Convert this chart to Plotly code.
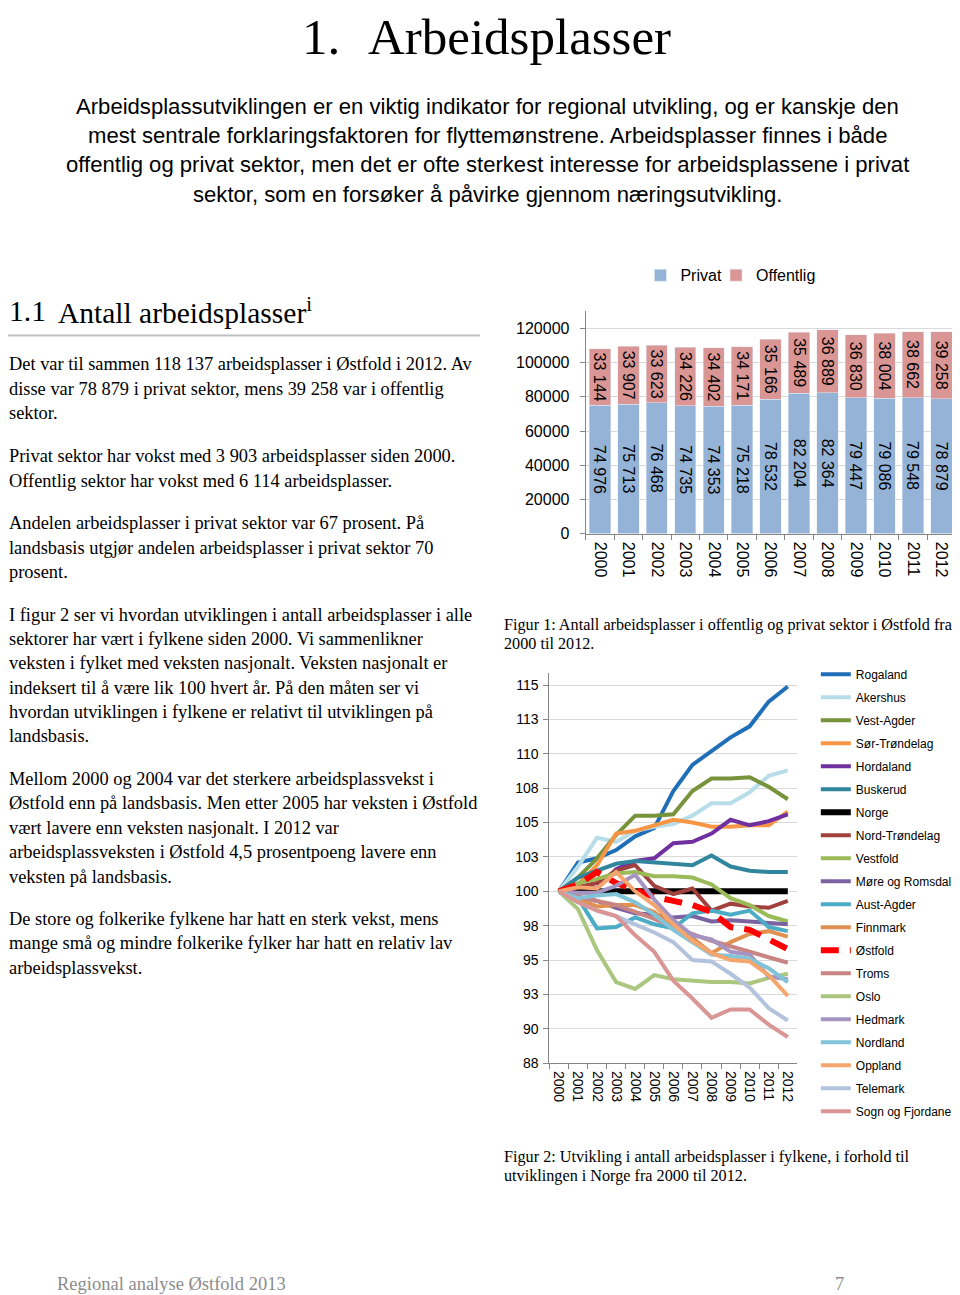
import plotly.graph_objects as go

# Page layout: browser keeps its default 8px body margin (OFF); positions
# below are given in reference-page pixels and mapped with a small factor S.
OFF = 8
S = 1.008
W, H = 952, 1297

# ---------------- data: Figur 1 ----------------
years = ["2000", "2001", "2002", "2003", "2004", "2005", "2006",
         "2007", "2008", "2009", "2010", "2011", "2012"]
privat = [74976, 75713, 76468, 74735, 74353, 75218, 78532,
          82204, 82364, 79447, 79086, 79548, 78879]
offentlig = [33144, 33907, 33623, 34226, 34402, 34171, 35166,
             35489, 36889, 36830, 38004, 38662, 39258]

# ---------------- data: Figur 2 (index, Norge = 100) ----------------
rogaland = [100, 102.1, 102.4, 103.0, 104.0, 104.6, 107.3, 109.2, 110.2, 111.2, 112.0, 113.8, 114.9]
akershus = [100, 101.8, 103.9, 103.6, 104.4, 104.7, 104.9, 105.5, 106.4, 106.4, 107.2, 108.4, 108.8]
vest_agder = [100, 101.0, 102.4, 104.1, 105.5, 105.5, 105.6, 107.3, 108.2, 108.2, 108.3, 107.6, 106.7]
sor_trondelag = [100, 100.5, 101.9, 104.2, 104.4, 104.8, 105.2, 105.0, 104.7, 104.7, 104.8, 104.8, 105.8]
hordaland = [100, 100.3, 100.2, 101.6, 102.2, 102.4, 103.5, 103.6, 104.2, 105.2, 104.8, 105.1, 105.6]
buskerud = [100, 101.0, 101.5, 102.0, 102.2, 102.1, 102.0, 101.9, 102.6, 101.8, 101.5, 101.4, 101.4]
norge = [100, 100, 100, 100, 100, 100, 100, 100, 100, 100, 100, 100, 100]
nord_trondelag = [100, 100.3, 100.6, 101.5, 101.9, 100.4, 99.8, 100.2, 98.6, 99.1, 98.9, 98.8, 99.3]
vestfold = [100, 100.6, 100.9, 101.3, 101.4, 101.1, 101.1, 101.0, 100.5, 99.5, 99.0, 98.2, 97.8]
more_romsdal = [100, 99.6, 99.3, 98.8, 98.4, 98.3, 98.1, 98.2, 97.8, 97.9, 97.8, 97.7, 97.6]
aust_agder = [100, 99.5, 97.3, 97.4, 98.1, 97.6, 97.3, 98.4, 98.6, 98.3, 98.6, 97.4, 97.1]
finnmark = [100, 99.4, 98.9, 99.0, 99.0, 98.5, 97.3, 96.6, 95.5, 96.3, 96.9, 97.1, 96.7]
ostfold = [100, 100.5, 101.4, 100.6, 100.1, 99.6, 99.3, 99.0, 98.5, 97.4, 97.2, 96.5, 95.8]
troms = [100, 99.6, 99.3, 99.0, 98.5, 98.0, 97.4, 96.9, 96.4, 96.0, 95.6, 95.2, 94.8]
oslo = [100, 98.7, 95.7, 93.4, 92.9, 93.9, 93.6, 93.5, 93.4, 93.4, 93.3, 93.7, 94.0]
hedmark = [100, 99.9, 99.9, 100.4, 101.2, 99.4, 97.9, 96.8, 96.5, 95.6, 95.4, 93.8, 93.6]
nordland = [100, 99.5, 99.7, 99.8, 99.2, 98.3, 97.2, 96.3, 95.4, 95.3, 95.1, 94.4, 93.4]
oppland = [100, 100.3, 100.2, 101.4, 100.0, 99.0, 97.6, 96.4, 95.5, 95.0, 94.9, 93.9, 92.4]
telemark = [100, 99.2, 98.6, 98.2, 97.6, 97.0, 96.3, 95.0, 94.9, 94.0, 93.0, 91.5, 90.6]
sogn_fjordane = [100, 99.2, 98.6, 98.2, 96.8, 95.6, 93.5, 92.2, 90.8, 91.4, 91.4, 90.3, 89.4]

idx_tickvals = [87.5, 90, 92.5, 95, 97.5, 100, 102.5, 105, 107.5, 110, 112.5, 115]
idx_ticktext = ["88", "90", "93", "95", "98", "100", "103", "105", "108", "110", "113", "115"]

series = [
    ("Rogaland", rogaland, "#1F6FB8", 4, "solid"),
    ("Akershus", akershus, "#B7DEE8", 4, "solid"),
    ("Vest-Agder", vest_agder, "#77933C", 4, "solid"),
    ("Sør-Trøndelag", sor_trondelag, "#F79646", 4, "solid"),
    ("Hordaland", hordaland, "#7030A0", 4, "solid"),
    ("Buskerud", buskerud, "#31859C", 4, "solid"),
    ("Norge", norge, "#000000", 6, "solid"),
    ("Nord-Trøndelag", nord_trondelag, "#A0413D", 4, "solid"),
    ("Vestfold", vestfold, "#9BBB59", 4, "solid"),
    ("Møre og Romsdal", more_romsdal, "#7B62A0", 4, "solid"),
    ("Aust-Agder", aust_agder, "#4BACC6", 4, "solid"),
    ("Finnmark", finnmark, "#E0914F", 4, "solid"),
    ("Østfold", ostfold, "#FF0000", 6, "18px,11px"),
    ("Troms", troms, "#C98583", 4, "solid"),
    ("Oslo", oslo, "#AAC67F", 4, "solid"),
    ("Hedmark", hedmark, "#A594C2", 4, "solid"),
    ("Nordland", nordland, "#82C3D8", 4, "solid"),
    ("Oppland", oppland, "#F5A56E", 4, "solid"),
    ("Telemark", telemark, "#B3C3DD", 4, "solid"),
    ("Sogn og Fjordane", sogn_fjordane, "#D99694", 4, "solid"),
]

# ---------------- text ----------------
intro_lines = [
    "Arbeidsplassutviklingen er en viktig indikator for regional utvikling, og er kanskje den",
    "mest sentrale forklaringsfaktoren for flyttemønstrene. Arbeidsplasser finnes i både",
    "offentlig og privat sektor, men det er ofte sterkest interesse for arbeidsplassene i privat",
    "sektor, som en forsøker å påvirke gjennom næringsutvikling.",
]
intro_y = [106, 135, 164, 194]

body_lines = [
    ("Det var til sammen 118 137 arbeidsplasser i Østfold i 2012. Av", 364),
    ("disse var 78 879 i privat sektor, mens 39 258 var i offentlig", 389),
    ("sektor.", 413),
    ("Privat sektor har vokst med 3 903 arbeidsplasser siden 2000.", 455),
    ("Offentlig sektor har vokst med 6 114 arbeidsplasser.", 480),
    ("Andelen arbeidsplasser i privat sektor var 67 prosent. På", 522),
    ("landsbasis utgjør andelen arbeidsplasser i privat sektor 70", 547),
    ("prosent.", 571),
    ("I figur 2 ser vi hvordan utviklingen i antall arbeidsplasser i alle", 614),
    ("sektorer har vært i fylkene siden 2000. Vi sammenlikner", 638),
    ("veksten i fylket med veksten nasjonalt. Veksten nasjonalt er", 662),
    ("indeksert til å være lik 100 hvert år. På den måten ser vi", 687),
    ("hvordan utviklingen i fylkene er relativt til utviklingen på", 711),
    ("landsbasis.", 735),
    ("Mellom 2000 og 2004 var det sterkere arbeidsplassvekst i", 778),
    ("Østfold enn på landsbasis. Men etter 2005 har veksten i Østfold", 802),
    ("vært lavere enn veksten nasjonalt. I 2012 var", 827),
    ("arbeidsplassveksten i Østfold 4,5 prosentpoeng lavere enn", 851),
    ("veksten på landsbasis.", 876),
    ("De store og folkerike fylkene har hatt en sterk vekst, mens", 918),
    ("mange små og mindre folkerike fylker har hatt en relativ lav", 942),
    ("arbeidsplassvekst.", 967),
]

captions = [
    ("Figur 1: Antall arbeidsplasser i offentlig og privat sektor i Østfold fra", 624),
    ("2000 til 2012.", 643),
    ("Figur 2: Utvikling i antall arbeidsplasser i fylkene, i forhold til", 1156),
    ("utviklingen i Norge fra 2000 til 2012.", 1175),
]


def px(x):
    """reference page x pixel -> paper fraction"""
    return max(0.0, (x * S - OFF) / W)


def py(y):
    """reference page y pixel -> paper fraction"""
    return min(1.0, 1 - (y * S - OFF) / H)


def legend_x(text_x):
    """legend box position so that the item text starts at text_x"""
    return px(text_x) - 43 / W


SERIF = "Liberation Serif"
SANS = "Liberation Sans"


def fmt(vals):
    return [f"{v:,}".replace(",", " ") for v in vals]


fig = go.Figure()

fig.add_trace(go.Bar(
    x=years, y=privat, name="Privat", marker_color="#95B3D7",
    text=fmt(privat), textposition="inside", insidetextanchor="middle",
    textangle=90, textfont=dict(size=16, color="black", family=SANS),
    xaxis="x", yaxis="y", legend="legend", hoverinfo="skip"))
fig.add_trace(go.Bar(
    x=years, y=offentlig, name="Offentlig", marker_color="#D99694",
    text=fmt(offentlig), textposition="inside", insidetextanchor="middle",
    textangle=90, textfont=dict(size=16, color="black", family=SANS),
    xaxis="x", yaxis="y", legend="legend3", hoverinfo="skip"))

for name, vals, color, width, dash in series:
    fig.add_trace(go.Scatter(
        x=years, y=vals, name=name, mode="lines",
        line=dict(color=color, width=width, dash=dash),
        xaxis="x2", yaxis="y2", legend="legend2", legendgroup=name,
        hoverinfo="skip"))

ann = []
# main title
ann.append(dict(text="1.", x=px(299), y=1.0, xanchor="left", yanchor="top",
                font=dict(family=SERIF, size=51, color="black")))
ann.append(dict(text="Arbeidsplasser", x=px(364), y=1.0, xanchor="left", yanchor="top",
                font=dict(family=SERIF, size=51, color="black")))
for t, y in zip(intro_lines, intro_y):
    ann.append(dict(text=t, x=px(484), y=py(y), xanchor="center", yanchor="middle",
                    font=dict(family=SANS, size=22.1, color="black")))
# section heading
ann.append(dict(text="1.1", x=0.0, y=py(311), xanchor="left", yanchor="middle",
                font=dict(family=SERIF, size=29.5, color="black")))
ann.append(dict(text="Antall arbeidsplasser<sup>i</sup>", x=px(57), y=py(311),
                xanchor="left", yanchor="middle",
                font=dict(family=SERIF, size=29.5, color="black")))
for t, y in body_lines:
    ann.append(dict(text=t, x=0.0, y=py(y), xanchor="left", yanchor="middle",
                    font=dict(family=SERIF, size=18.4, color="black")))
for t, y in captions:
    ann.append(dict(text=t, x=px(499), y=py(y), xanchor="left", yanchor="middle",
                    font=dict(family=SERIF, size=16.2, color="black")))
ann.append(dict(text="Regional analyse Østfold 2013", x=px(56), y=py(1283),
                xanchor="left", yanchor="middle",
                font=dict(family=SERIF, size=18.5, color="#8C8C8C")))
ann.append(dict(text="7", x=px(833), y=py(1283), xanchor="center", yanchor="middle",
                font=dict(family=SERIF, size=18.5, color="#8C8C8C")))
for a in ann:
    a.update(xref="paper", yref="paper", showarrow=False, borderpad=0)

axis_common = dict(showline=True, linecolor="#868686", linewidth=1,
                   ticks="outside", tickcolor="#868686", ticklen=5,
                   zeroline=False)

bar_legend = dict(orientation="h", xanchor="left", y=py(275), yanchor="middle",
                  font=dict(size=16, family=SANS, color="black"),
                  bgcolor="rgba(0,0,0,0)", itemwidth=30)

fig.update_layout(
    width=W, height=H,
    margin=dict(l=0, r=0, t=0, b=0),
    paper_bgcolor="white", plot_bgcolor="white",
    barmode="stack", bargap=0.25,
    uniformtext=dict(minsize=16, mode="show"),
    font=dict(family=SANS, color="black"),
    annotations=ann,
    shapes=[dict(type="line", xref="paper", yref="paper",
                 x0=0.0, x1=px(476), y0=py(335), y1=py(335),
                 line=dict(color="#BFBFBF", width=2))],
    xaxis=dict(domain=[px(581), px(948)], anchor="y", type="category",
               tickson="boundaries", tickangle=90, showgrid=False,
               ticklabelstandoff=4,
               tickfont=dict(size=16, family=SANS, color="black"), **axis_common),
    yaxis=dict(domain=[py(533), py(311)], anchor="x", range=[0, 130000],
               tick0=0, dtick=20000, tickformat="d", showgrid=True,
               gridcolor="#D9D9D9", gridwidth=1, ticklabelstandoff=7,
               tickfont=dict(size=16, family=SANS, color="black"), **axis_common),
    xaxis2=dict(domain=[px(545), px(791)], anchor="y2", type="category",
                range=[-0.5, 12.5], tickson="boundaries", tickangle=90,
                showgrid=False, ticklabelstandoff=4,
                tickfont=dict(size=14, family=SANS, color="black"), **axis_common),
    yaxis2=dict(domain=[py(1062), py(672)], anchor="x2", range=[87.5, 115.9],
                tickmode="array", tickvals=idx_tickvals, ticktext=idx_ticktext,
                showgrid=True, gridcolor="#D9D9D9", gridwidth=1,
                ticklabelstandoff=2,
                tickfont=dict(size=14, family=SANS, color="black"), **axis_common),
    legend=dict(x=legend_x(678), **bar_legend),
    legend3=dict(x=legend_x(753), **bar_legend),
    legend2=dict(orientation="v", x=legend_x(852), xanchor="left", y=py(659),
                 yanchor="top", font=dict(size=12, family=SANS, color="black"),
                 bgcolor="rgba(0,0,0,0)", itemwidth=30, tracegroupgap=4,
                 traceorder="grouped"),
    showlegend=True,
)

fig.write_html("out.html", config={"displayModeBar": False})
